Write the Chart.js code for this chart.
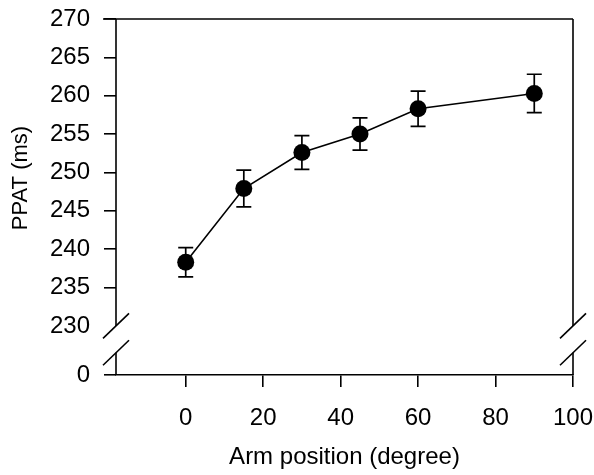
<!DOCTYPE html>
<html>
<head>
<meta charset="utf-8">
<script src="https://cdn.jsdelivr.net/npm/chart.js@4"></script>
<style>
html,body{margin:0;padding:0;background:#fff;}
#wrap{width:594px;height:475px;position:relative;}
</style>
</head>
<body>
<div id="wrap"><canvas id="c" width="594" height="475"></canvas></div>
<script>
// ---- data ----
const armPosition = [0, 15, 30, 45, 60, 90];
const ppat = [238.3, 247.9, 252.6, 255.0, 258.3, 260.3];
const ppatErr = [1.9, 2.4, 2.2, 2.1, 2.3, 2.5];
const xTicks = [0, 20, 40, 60, 80, 100];
const yTicks = [230, 235, 240, 245, 250, 255, 260, 265, 270];
const yZeroPos = 223.6;       // where the "0" of the broken axis sits
const yZeroLabel = '0';
const breakHigh = 230;        // upper end of the axis break
const breakLow = 226.5;       // lower end of the axis break
const xTitle = 'Arm position (degree)';
const yTitle = 'PPAT (ms)';

const FONT = "'Liberation Sans', Arial, sans-serif";

const errorBars = {
  id: 'errorBars',
  beforeDatasetsDraw(chart) {
    const {ctx, scales: {x, y}} = chart;
    ctx.save();
    ctx.strokeStyle = '#000';
    ctx.lineWidth = 1.7;
    armPosition.forEach((v, i) => {
      const px = x.getPixelForValue(v);
      const hi = y.getPixelForValue(ppat[i] + ppatErr[i]);
      const lo = y.getPixelForValue(ppat[i] - ppatErr[i]);
      ctx.beginPath();
      ctx.moveTo(px, hi); ctx.lineTo(px, lo);
      ctx.moveTo(px - 7.5, hi); ctx.lineTo(px + 7.5, hi);
      ctx.moveTo(px - 7.5, lo); ctx.lineTo(px + 7.5, lo);
      ctx.stroke();
    });
    ctx.restore();
  }
};

const frame = {
  id: 'frame',
  afterDraw(chart) {
    const {ctx, chartArea: {left, right, top, bottom}, scales: {y}} = chart;
    const yb1 = y.getPixelForValue(breakHigh);
    const yb2 = y.getPixelForValue(breakLow);
    ctx.save();
    ctx.strokeStyle = '#000';
    ctx.lineWidth = 1.6;
    const seg = (a, b, c, d) => { ctx.beginPath(); ctx.moveTo(a, b); ctx.lineTo(c, d); ctx.stroke(); };
    seg(left - 13, top, right, top);
    [left, right].forEach(px => {
      seg(px, top, px, yb1);
      seg(px, yb2, px, bottom);
      [yb1, yb2].forEach(py => seg(px - 13, py + 12.5, px + 13, py - 12.5));
    });
    // y title
    ctx.fillStyle = '#000';
    ctx.font = '22px ' + FONT;
    ctx.textAlign = 'center';
    ctx.textBaseline = 'middle';
    ctx.translate(21, top + 159);
    ctx.rotate(-Math.PI / 2);
    ctx.fillText(yTitle, 0, 0);
    ctx.restore();
  }
};

new Chart(document.getElementById('c'), {
  type: 'line',
  data: {
    datasets: [{
      data: armPosition.map((v, i) => ({x: v, y: ppat[i]})),
      borderColor: '#000',
      borderWidth: 1.6,
      backgroundColor: '#000',
      pointBackgroundColor: '#000',
      pointBorderColor: '#000',
      pointRadius: 8.5,
      pointBorderWidth: 0,
      tension: 0,
      fill: false
    }]
  },
  options: {
    responsive: false,
    animation: false,
    devicePixelRatio: 1,
    layout: {padding: {left: 0, top: 19, right: 21, bottom: 0}},
    plugins: {legend: {display: false}, tooltip: {enabled: false}},
    scales: {
      x: {
        type: 'linear',
        min: -18, max: 100,
        afterBuildTicks(s) { s.ticks = xTicks.map(v => ({value: v})); },
        afterFit(s) { s.height = 100; s.paddingLeft = 0; s.paddingRight = 0; },
        grid: {drawOnChartArea: false, tickLength: 12, color: '#000', lineWidth: 1.6},
        border: {display: true, color: '#000', width: 1.6},
        ticks: {color: '#000', font: {family: FONT, size: 24}, padding: 17, maxRotation: 0},
        title: {display: true, text: xTitle, color: '#000', font: {family: FONT, size: 24}, padding: {top: 0, bottom: 3}}
      },
      y: {
        type: 'linear',
        min: yZeroPos, max: 270,
        afterBuildTicks(s) { s.ticks = [{value: yZeroPos}].concat(yTicks.map(v => ({value: v}))); },
        afterFit(s) { s.width = 116; s.paddingTop = 0; s.paddingBottom = 0; },
        grid: {
          drawOnChartArea: false, tickLength: 12, lineWidth: 1.6,
          color: ctx => (ctx.tick && ctx.tick.value === breakHigh) ? 'rgba(0,0,0,0)' : '#000'
        },
        border: {display: false},
        ticks: {
          color: '#000', font: {family: FONT, size: 24}, padding: 14,
          callback: v => (v === yZeroPos ? yZeroLabel : String(v))
        }
      }
    }
  },
  plugins: [errorBars, frame]
});
</script>
</body>
</html>
